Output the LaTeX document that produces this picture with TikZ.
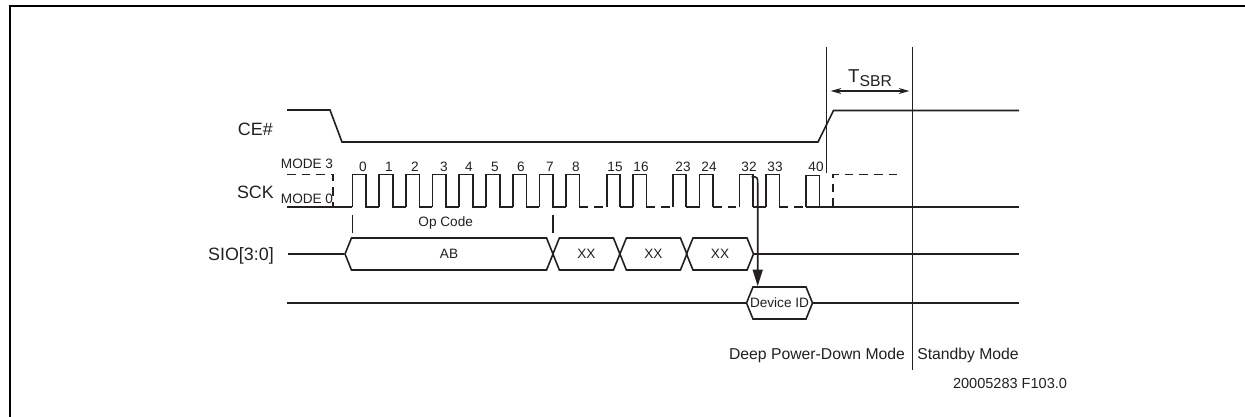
\documentclass[tikz,border=0pt]{standalone}
\usepackage{fontspec}
\setmainfont{Liberation Sans}
\usetikzlibrary{arrows.meta,shapes.symbols}
\definecolor{inkgray}{RGB}{35,31,32}

\begin{document}
\begin{tikzpicture}[
  x=0.75pt, y=-0.75pt,
  sig/.style={draw=inkgray, line width=1.2pt},
  dsh/.style={draw=inkgray, line width=1.2pt, dash pattern=on 6.5pt off 4.5pt},
  rule/.style={draw=inkgray, line width=0.9pt},
  lab/.style={text=inkgray, font=\fontsize{13.4pt}{15pt}\selectfont, inner sep=0pt},
  tiny/.style={text=inkgray, font=\fontsize{10.2pt}{12pt}\selectfont, inner sep=0pt},
  note/.style={text=inkgray, font=\fontsize{11.8pt}{14pt}\selectfont, inner sep=0pt},
  bus/.style={sig, signal, signal to=west and east, signal pointer angle=136, inner sep=0pt,
    minimum height=24pt, text=inkgray, font=\fontsize{10.2pt}{12pt}\selectfont}
]
\useasboundingbox (0,0) rectangle (1245,417);
\draw[black, line width=1.6pt] (10,417) -- (10,6) -- (1245,6);

% signal names
\node[lab, anchor=east] (ce) at (273,129) {CE\#};
\node[lab, anchor=east] (sck) at (274,192) {SCK};
\node[lab, anchor=east] (sio) at (274,256) {SIO[3:0]};
\node[tiny] (mode3) at (307,163.5) {MODE 3};
\node[tiny] (mode0) at (307,199) {MODE 0};

% CE#
\draw[sig] (287,110) -- (330,110) -- (342,142) -- (818,142) -- (833.5,110.5) -- (1019,110.5);

% SCK
\draw[sig] (287,207) -- (352.3,207);
\foreach \x in {352.3,379,405.7,432.5,459.2,486,512.7,539.3}
  \draw[sig] (\x,207) -- (\x,174.5) -- (\x+13.7,174.5) -- (\x+13.7,207) -- (\x+26.7,207);
\foreach \x in {566,606.7,633,672.7,699.5,739.3,766}
  \draw[sig] (\x,207) -- (\x,174.5) -- (\x+13.4,174.5) -- (\x+13.4,207);
\draw[sig] (620.1,207) -- (633,207);
\draw[sig] (686.1,207) -- (699.5,207);
\draw[sig] (752.7,207) -- (766,207);
\draw[sig] (806,207) -- (806,175.5) -- (819.3,175.5) -- (819.3,207);
\draw[sig] (806,207) -- (1019,207);
\foreach \x/\y in {579.4/606.7,646.4/672.7,713/739.3,779.4/806}
  \draw[dsh] (\x,207) -- (\y,207);
\draw[dsh] (287,174.5) -- (333,174.5) -- (333,207);
\draw[dsh] (833,207) -- (833,174.5) -- (900,174.5);

% clock numbers
\foreach \x/\t in {363/0,389/1,415/2,444/3,469/4,495/5,521/6,550/7,576/8,615/15,641/16,683/23,709/24,749/32,775/33,816/40}
  \node[tiny] (n\t) at (\x,167) {\t};

% op code
\draw[sig] (352.3,215) -- (352.3,233);
\draw[sig] (552.7,215) -- (552.7,233);
\node[tiny] (opcode) at (445.7,223) {Op Code};

% SIO
\node[bus, minimum width=208*0.75pt] (ab) at (449,254) {AB};
\node[bus, minimum width=67*0.75pt] (xa) at (586.4,254) {XX};
\node[bus, minimum width=67*0.75pt] (xb) at (653.4,254) {XX};
\node[bus, minimum width=67*0.75pt] (xc) at (720,254) {XX};
\coordinate (sioa) at (288,254);
\coordinate (siob) at (1019,254);
\draw[sig] (sioa) -- (ab.west);
\draw[sig] (xc.east) -- (siob);

% device id
\node[bus, inner xsep=-6pt, minimum width=66*0.75pt] (devid) at (779.5,303) {Device ID};
\coordinate (deva) at (287,303);
\coordinate (devb) at (1019,303);
\draw[sig] (deva) -- (devid.west);
\draw[sig] (devid.east) -- (devb);
\coordinate (pulse) at (751.7,176.7);
\draw[sig, -{Triangle[length=12.5pt,width=7.5pt]}] (pulse) .. controls (757.7,177) .. (757.7,185) -- (757.7,0 |- devid.north);

% mode boundaries
\coordinate (ta) at (826.7,46.7);
\coordinate (tb) at (826.7,173);
\coordinate (tc) at (912.3,46.7);
\coordinate (td) at (912.3,369.5);
\draw[rule] (ta) -- (tb);
\draw[rule] (tc) -- (td);
\draw[rule, {Stealth[length=8pt,width=4.5pt]}-{Stealth[length=8pt,width=4.5pt]}] (830.7,91) -- (909.3,91);
\node[text=inkgray, font=\fontsize{14pt}{16pt}\selectfont, inner sep=0pt] (tsbr) at (870,78) {T\raisebox{-0.42ex}{\fontsize{11.8pt}{14pt}\selectfont SBR}};

\node[note] (deep) at (817,355.7) {Deep Power-Down Mode};
\node[note] (standby) at (968,355) {Standby Mode};
\node[text=inkgray, font=\fontsize{10.9pt}{13pt}\selectfont, inner sep=0pt] (figno) at (1010,383) {20005283 F103.0};
\end{tikzpicture}
\end{document}
